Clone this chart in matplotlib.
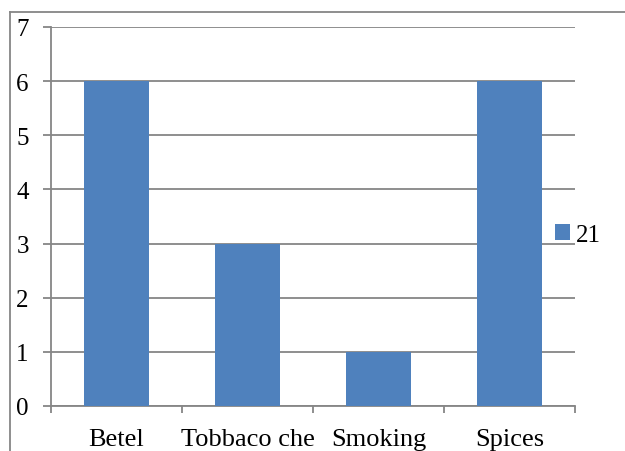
import matplotlib.pyplot as plt
from matplotlib.lines import Line2D
import numpy as np

categories = ["Betel", "Tobbaco che", "Smoking", "Spices"]
values = [6, 3, 1, 6]
series_name = "21"

plt.rcParams['font.family'] = ['Liberation Serif', 'DejaVu Serif']

bar_color = "#4F81BD"
grid_color = "#868686"

fig = plt.figure(figsize=(6.25, 4.52), dpi=100)
ax = fig.add_axes([51 / 625, 1 - 407 / 452, 524 / 625, 379 / 452])

x = np.arange(len(categories))
ax.bar(x, values, width=0.5, color=bar_color, label=series_name, zorder=3)

ax.set_xlim(-0.5, len(categories) - 0.5)
ax.set_ylim(0, 7)
ax.set_yticks(range(0, 8))
ax.yaxis.grid(True, color=grid_color, linewidth=1.3, zorder=0)

ax.set_xticks(x)
ax.set_xticklabels(categories)
ax.set_xticks(np.arange(-0.5, len(categories)), minor=True)
ax.tick_params(axis='x', which='major', length=0, pad=16, labelsize=19)
ax.tick_params(axis='x', which='minor', length=5, width=1.3, color=grid_color)
ax.tick_params(axis='y', length=6, width=1.3, color=grid_color, pad=10, labelsize=18)

for side in ["top", "right"]:
    ax.spines[side].set_visible(False)
for side in ["left", "bottom"]:
    ax.spines[side].set_color(grid_color)
    ax.spines[side].set_linewidth(1.3)

# outer chart border (left and top edges only show)
fig.add_artist(Line2D([10 / 625, 10 / 625], [0, 1 - 13 / 452], color=grid_color, linewidth=1.3))
fig.add_artist(Line2D([10 / 625, 1], [1 - 13 / 452, 1 - 13 / 452], color=grid_color, linewidth=1.3))

fig.legend(loc='center left', bbox_to_anchor=(555 / 625, 1 - 236 / 452), frameon=False,
           fontsize=18, handlelength=0.6, handleheight=0.6, handletextpad=0.25,
           borderpad=0, borderaxespad=0)

fig.savefig("out.png", dpi=100)
